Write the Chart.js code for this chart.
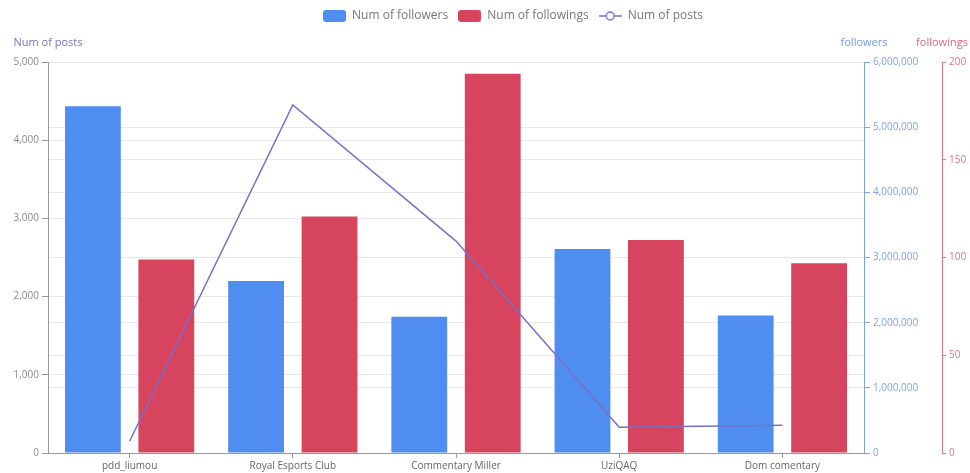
<!DOCTYPE html>
<html>
<head>
<meta charset="utf-8">
<script src="https://cdn.jsdelivr.net/npm/chart.js@4"></script>
<style>
  html, body { margin: 0; padding: 0; background: #fff; }
  #wrap { width: 970px; height: 473px; position: relative; }
</style>
</head>
<body>
<div id="wrap"><canvas id="comboChart"></canvas></div>
<script>
var categories = ['pdd_liumou', 'Royal Esports Club', 'Commentary Miller', 'UziQAQ', 'Dom comentary'];
var followers = [5320000, 2640000, 2090000, 3130000, 2110000];
var followings = [99, 121, 194, 109, 97];
var posts = [150, 4450, 2710, 330, 355];

var postsTicks = [0, 5000, 1000];
var followersTicks = [0, 6000000, 1000000];
var followingsTicks = [0, 200, 50];

var blue = '#4f8df0';
var red = '#d6445e';
var purple = '#7a6fc6';

// little legend icons
function boxIcon(color) {
  var c = document.createElement('canvas');
  c.width = 23; c.height = 12;
  var g = c.getContext('2d');
  g.fillStyle = color;
  g.beginPath();
  g.roundRect(0, 0, 23, 12, 3);
  g.fill();
  return c;
}
function lineIcon(color) {
  var c = document.createElement('canvas');
  c.width = 23; c.height = 12;
  var g = c.getContext('2d');
  g.strokeStyle = color;
  g.lineWidth = 1.5;
  g.beginPath(); g.moveTo(0, 6); g.lineTo(23, 6); g.stroke();
  g.fillStyle = '#fff';
  g.beginPath(); g.arc(11.5, 6, 4, 0, Math.PI * 2); g.fill(); g.stroke();
  return c;
}

var axisNames = {
  id: 'axisNames',
  afterDraw: function (chart) {
    var ctx = chart.ctx;
    var top = chart.chartArea.top - 19;
    ctx.save();
    ctx.font = '11px "Open Sans"';
    ctx.textAlign = 'center';
    ctx.textBaseline = 'middle';
    ctx.fillStyle = '#7373c2';
    ctx.fillText('Num of posts', chart.scales.yPosts.right, top);
    ctx.fillStyle = '#759be8';
    ctx.fillText('followers', chart.scales.yFollowers.left, top);
    ctx.fillStyle = '#e0667e';
    ctx.fillText('followings', chart.scales.yFollowings.left, top);
    ctx.restore();
  }
};

var legendFit = {
  id: 'legendFit',
  beforeInit: function (chart) {
    var fit = chart.legend.fit;
    chart.legend.fit = function () {
      fit.bind(this)();
      this.height = 62;
    };
  },
  afterLayout: function (chart) {
    chart.legend.left += 28;
    chart.legend.right += 28;
  }
};

var ctx = document.getElementById('comboChart');
var comboChart = new Chart(ctx, {
  type: 'bar',
  data: {
    labels: categories,
    datasets: [
      {
        label: 'Num of followers',
        data: followers,
        backgroundColor: blue,
        yAxisID: 'yFollowers',
        order: 2
      },
      {
        label: 'Num of followings',
        data: followings,
        backgroundColor: red,
        yAxisID: 'yFollowings',
        order: 2
      },
      {
        type: 'line',
        label: 'Num of posts',
        data: posts,
        borderColor: purple,
        borderWidth: 1.5,
        pointRadius: 0,
        tension: 0,
        yAxisID: 'yPosts',
        order: 1
      }
    ]
  },
  options: {
    responsive: true,
    maintainAspectRatio: false,
    animation: false,
    layout: { padding: { left: 0, right: 0, top: 0, bottom: 0 } },
    datasets: {
      bar: { categoryPercentage: 0.9, barPercentage: 0.76 }
    },
    plugins: {
      tooltip: { enabled: false },
      legend: {
        display: true,
        position: 'top',
        labels: {
          usePointStyle: true,
          pointStyleWidth: 23,
          boxHeight: 12,
          padding: 10,
          color: '#777',
          font: { family: 'Open Sans', size: 12 },
          generateLabels: function (chart) {
            var icons = [boxIcon(blue), boxIcon(red), lineIcon(purple)];
            return chart.data.datasets.map(function (ds, i) {
              return {
                text: ds.label,
                pointStyle: icons[i],
                datasetIndex: i,
                fontColor: '#777',
                lineWidth: 0,
                hidden: false
              };
            });
          }
        }
      }
    },
    scales: {
      x: {
        grid: { display: true, offset: false, drawOnChartArea: false, tickLength: 5, tickColor: '#999' },
        border: { color: '#999' },
        ticks: { color: '#666', font: { family: 'Open Sans', size: 10 }, padding: 2 },
        afterFit: function (s) { s.height = 20; }
      },
      yPosts: {
        position: 'left',
        min: postsTicks[0],
        max: postsTicks[1],
        ticks: { stepSize: postsTicks[2], color: '#8a8a8a', font: { family: 'Open Sans', size: 10 }, padding: 3 },
        grid: { color: '#e8e8e8', tickColor: '#999', tickLength: 6 },
        border: { color: '#999' },
        afterFit: function (s) { s.width = 48; }
      },
      yFollowers: {
        position: 'right',
        weight: 1,
        min: followersTicks[0],
        max: followersTicks[1],
        ticks: { stepSize: followersTicks[2], color: '#7fa3ea', font: { family: 'Open Sans', size: 10 }, padding: 3 },
        grid: { color: '#e8e8e8', tickColor: '#7fa3ea', tickLength: 6 },
        border: { color: '#7fa3ea' },
        afterFit: function (s) { s.width = 78; }
      },
      yFollowings: {
        position: 'right',
        weight: 2,
        min: followingsTicks[0],
        max: followingsTicks[1],
        ticks: { stepSize: followingsTicks[2], color: '#e0728a', font: { family: 'Open Sans', size: 10 }, padding: 3 },
        grid: { color: '#e8e8e8', tickColor: '#e0728a', tickLength: 4 },
        border: { color: '#e0728a' },
        afterFit: function (s) { s.width = 28; }
      }
    }
  },
  plugins: [legendFit, axisNames]
});
</script>
</body>
</html>
